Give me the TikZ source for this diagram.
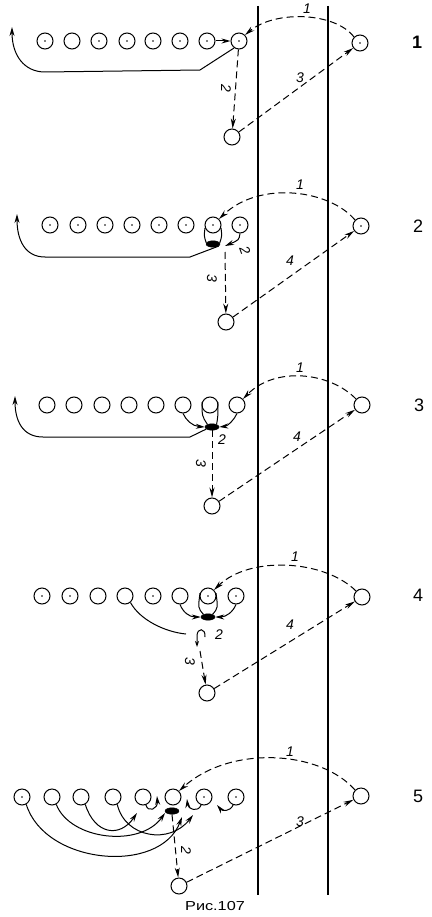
\documentclass[tikz,border=0pt]{standalone}
\usepackage{fontspec}
\setmainfont{Liberation Sans}
\usetikzlibrary{arrows.meta,shapes.geometric}
\tikzset{
  pl/.style={circle,draw,line width=1pt,minimum size=16pt,inner sep=0pt},
  pd/.style={pl,path picture={\fill (path picture bounding box.center) circle (0.9pt);}},
  ball/.style={ellipse,draw,fill,minimum width=14pt,minimum height=6.5pt,inner sep=0pt},
  body/.style={line width=1pt},
  run/.style={line width=1pt,-{Stealth[length=9pt,width=5pt]}},
  pass/.style={line width=1pt,dash pattern=on 7pt off 4pt,-{Stealth[length=10pt,width=5pt]}},
  lab/.style={font=\itshape\fontsize{14}{14}\selectfont,inner sep=0pt},
  num/.style={font=\fontsize{18}{18}\selectfont,inner sep=0pt},
  field/.style={line width=1.1pt}
}
\begin{document}
\begin{tikzpicture}[x=1pt,y=-1pt]
\useasboundingbox (0,0) rectangle (431,917);
% field lines
\coordinate (f1t) at (258,6); \coordinate (f1b) at (258,895);
\coordinate (f2t) at (328,6); \coordinate (f2b) at (328,895);
\draw[field] (f1t) -- (f1b);
\draw[field] (f2t) -- (f2b);

% ---------------- panel 1
\foreach \x/\s [count=\i] in {45/pd,72/pl,99/pd,127/pd,153/pd,180/pd,207/pd,239/pd}
  \node[\s] (p1c\i) at (\x,41) {};
\node[pd] (p1r) at (360,43) {};
\node[pl] (p1b) at (232,137) {};
\node[num,font=\bfseries\fontsize{18}{18}\selectfont] (n1) at (417,42) {1};
\draw[run] (p1c7) -- (p1c8);
\coordinate (p1a) at (12,27);
\draw[run] (p1c8.235) -- (200,70) -- (45,72) .. controls (24,72) and (12,55) .. (p1a);
\draw[pass] (p1r.north west) .. controls (335,12) and (275,10) .. (p1c8.north east);
\node[lab] (l11) at (307,9) {1};
\draw[pass] (p1c8) -- (p1b);
\node[lab,rotate=-90] (l12) at (226,88) {2};
\draw[pass] (p1b) -- (p1r);
\node[lab] (l13) at (300,78) {3};

% ---------------- panel 2
\foreach \x [count=\i] in {50,78,105,132,159,186,213,240}
  \node[pd] (p2c\i) at (\x,225) {};
\node[pd] (p2r) at (361,226) {};
\node[pl] (p2b) at (226,322) {};
\node[ball] (p2e) at (213,244) {};
\node[num] (n2) at (418,226) {2};
\draw[body] (p2c7.200) .. controls (204,236) .. (p2e.170);
\draw[body] (p2c7.-20) .. controls (222,236) .. (p2e.10);
\coordinate (p2k) at (225,246);
\draw[run] (p2c8.south) .. controls (239,240) .. (p2k);
\node[lab,rotate=-70] (l22) at (245,250) {2};
\coordinate (p2a) at (17,214);
\draw[run] (p2e.-20) -- (190,257) -- (45,257) .. controls (25,257) and (17,240) .. (p2a);
\draw[pass] (p2r.north west) .. controls (330,190) and (260,180) .. (p2c7.north east);
\node[lab] (l21) at (300,185) {1};
\coordinate (p2s) at (225,252);
\draw[pass] (p2s) -- (p2b);
\node[lab,rotate=-90] (l23) at (212,278) {3};
\draw[pass] (p2b) -- (p2r);
\node[lab] (l24) at (290,261) {4};

% ---------------- panel 3
\foreach \x [count=\i] in {47,74,102,129,156,183,210,237}
  \node[pl] (p3c\i) at (\x,405) {};
\node[pl] (p3r) at (362,405) {};
\node[pl] (p3b) at (212,506) {};
\node[ball] (p3e) at (212,427) {};
\node[num] (n3) at (419,405) {3};
\draw[body] (p3c7.160) .. controls (202,416) .. (p3e.150);
\draw[body] (p3c7.20) .. controls (218,416) .. (p3e.30);
\draw[run] (p3c6.south) .. controls (186,420) and (192,426) .. (p3e.west);
\draw[run] (p3c8.south) .. controls (234,420) and (228,426) .. (p3e.east);
\node[lab] (l32) at (222,440) {2};
\coordinate (p3a) at (15,396);
\draw[run] (p3e.200) -- (190,437) -- (43,437) .. controls (22,437) and (15,420) .. (p3a);
\draw[pass] (p3r.north west) .. controls (330,372) and (275,366) .. (p3c8.north east);
\node[lab] (l31) at (300,368) {1};
\draw[pass] (p3e.south) -- (p3b);
\node[lab,rotate=-90] (l33) at (201,463) {3};
\draw[pass] (p3b) -- (p3r);
\node[lab] (l34) at (297,437) {4};

% ---------------- panel 4
\foreach \x/\s [count=\i] in {42/pd,70/pd,98/pl,125/pl,153/pd,180/pl,208/pd,236/pd}
  \node[\s] (p4c\i) at (\x,596) {};
\node[pl] (p4r) at (362,597) {};
\node[pl] (p4b) at (207,693) {};
\node[ball] (p4e) at (208,617) {};
\node[num] (n4) at (418,595) {4};
\draw[body] (p4c7.160) .. controls (198,608) .. (p4e.150);
\draw[body] (p4c7.20) .. controls (218,608) .. (p4e.30);
\draw[run] (p4c6.south) .. controls (183,612) and (189,617) .. (p4e.west);
\draw[run] (p4c8.south) .. controls (233,612) and (226,617) .. (p4e.east);
\coordinate (p4m) at (186,634);
\draw[body] (p4c4.-50) .. controls (140,620) and (165,632) .. (p4m);
\coordinate (p4h1) at (205,637);
\coordinate (p4h2) at (197,647);
\draw[line width=1pt,-{Stealth[length=6pt,width=4pt]}] (p4h1) .. controls (206,628) and (197,627) .. (197,636) -- (p4h2);
\node[lab] (l42) at (219,635) {2};
\coordinate (p4s) at (200,651);
\draw[pass] (p4s) -- (p4b);
\node[lab,rotate=-90] (l43) at (190,661) {3};
\draw[pass] (p4b) -- (p4r);
\node[lab] (l44) at (290,625) {4};
\draw[pass] (p4r.north west) .. controls (325,560) and (250,555) .. (p4c7.north east);
\node[lab] (l41) at (295,557) {1};

% ---------------- panel 5
\foreach \x/\s [count=\i] in {22/pd,52/pl,81/pl,113/pl,143/pl,173/pl,204/pd,236/pd}
  \node[\s] (p5c\i) at (\x,797) {};
\node[pl] (p5r) at (361,796) {};
\node[pl] (p5b) at (179,886) {};
\node[ball] (p5e) at (172,811) {};
\node[num] (n5) at (418,796) {5};
\draw[pass] (p5r.north west) .. controls (320,750) and (230,745) .. (p5c6.north east);
\node[lab] (l51) at (290,752) {1};
\draw[pass] (p5e.south) -- (p5b);
\node[lab,rotate=-90] (l52) at (186,850) {2};
\draw[pass] (p5b) -- (p5r);
\node[lab] (l53) at (300,822) {3};
% short hooks
\coordinate (p5k5) at (157,796);
\draw[run] (p5c5.290) .. controls (148,813) and (158,809) .. (p5k5);
\coordinate (p5k7) at (187,799);
\draw[run] (p5c7.250) .. controls (198,813) and (188,809) .. (p5k7);
\coordinate (p5k8) at (217,805);
\draw[run] (p5c8.250) .. controls (230,812) and (222,811) .. (p5k8);
% long arcs
\coordinate (p5t1) at (182,817);
\coordinate (p5t2) at (165,813);
\coordinate (p5t3) at (137,813);
\coordinate (p5t4) at (193,815);
\draw[run] (p5c1.300) .. controls (45,865) and (160,875) .. (p5t1);
\draw[run] (p5c2.300) .. controls (70,840) and (140,848) .. (p5t2);
\draw[run] (p5c3.300) .. controls (95,835) and (120,838) .. (p5t3);
\draw[run] (p5c4.300) .. controls (125,838) and (170,845) .. (p5t4);
\node[font=\fontsize{13}{13}\selectfont,inner sep=0pt,xscale=1.25] (cap) at (215,906) {Рис.107};
\end{tikzpicture}
\end{document}
